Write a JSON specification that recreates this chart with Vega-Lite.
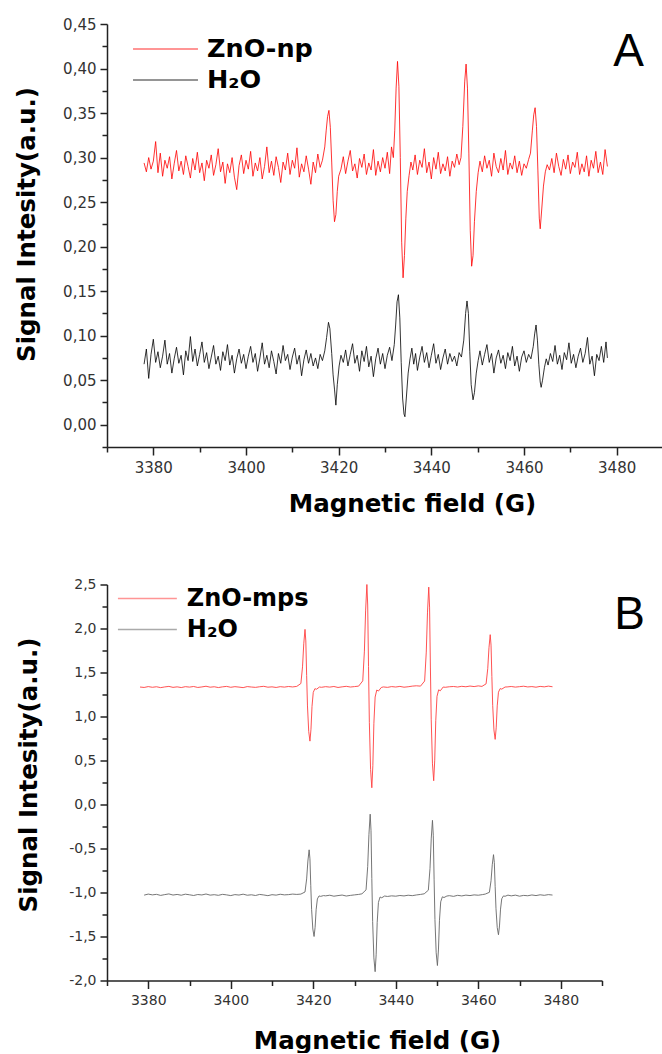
{
  "$schema": "https://vega.github.io/schema/vega-lite/v6.json",
  "padding": {"left": 14, "top": 17, "right": 0, "bottom": 0},
  "spacing": 61.5,
  "config": {
    "view": {"stroke": null},
    "axis": {"grid": false, "domainColor": "#222", "domainWidth": 1.5, "tickColor": "#222", "tickWidth": 1.5, "labelFont": "DejaVu Sans", "labelFontSize": 15, "labelColor": "#333", "titleFont": "DejaVu Sans", "titleFontWeight": "bold", "titleFontSize": 24.5, "titleColor": "#000"},
    "legend": {"symbolType": "M-1.85,0H1.85", "symbolStrokeWidth": 1.3, "symbolOpacity": 0.55, "labelFont": "DejaVu Sans", "labelFontWeight": "bold", "labelFontSize": 24, "labelColor": "#000", "padding": 0},
    "title": {"font": "Liberation Sans", "fontSize": 46, "fontWeight": "normal", "color": "#000", "anchor": "end", "frame": "group", "baseline": "alphabetic", "offset": 0}
  },
  "resolve": {"scale": {"color": "independent"}},
  "datasets": {
    "A_ZnO": [
      {"gauss":3378.0,"signal":0.294},{"gauss":3378.5,"signal":0.284},{"gauss":3379.0,"signal":0.300},{"gauss":3379.5,"signal":0.287},{"gauss":3380.0,"signal":0.296},{"gauss":3380.5,"signal":0.318},{"gauss":3381.0,"signal":0.283},{"gauss":3381.5,"signal":0.305},{"gauss":3382.0,"signal":0.279},{"gauss":3382.5,"signal":0.297},{"gauss":3383.0,"signal":0.288},{"gauss":3383.5,"signal":0.301},{"gauss":3384.0,"signal":0.276},{"gauss":3384.5,"signal":0.293},{"gauss":3385.0,"signal":0.308},{"gauss":3385.5,"signal":0.285},{"gauss":3386.0,"signal":0.296},{"gauss":3386.5,"signal":0.281},{"gauss":3387.0,"signal":0.302},{"gauss":3387.5,"signal":0.290},{"gauss":3388.0,"signal":0.277},{"gauss":3388.5,"signal":0.299},{"gauss":3389.0,"signal":0.286},{"gauss":3389.5,"signal":0.306},{"gauss":3390.0,"signal":0.283},{"gauss":3390.5,"signal":0.294},{"gauss":3391.0,"signal":0.274},{"gauss":3391.5,"signal":0.297},{"gauss":3392.0,"signal":0.288},{"gauss":3392.5,"signal":0.303},{"gauss":3393.0,"signal":0.280},{"gauss":3393.5,"signal":0.292},{"gauss":3394.0,"signal":0.310},{"gauss":3394.5,"signal":0.284},{"gauss":3395.0,"signal":0.295},{"gauss":3395.5,"signal":0.271},{"gauss":3396.0,"signal":0.293},{"gauss":3396.5,"signal":0.283},{"gauss":3397.0,"signal":0.300},{"gauss":3397.5,"signal":0.278},{"gauss":3398.0,"signal":0.264},{"gauss":3398.5,"signal":0.291},{"gauss":3399.0,"signal":0.303},{"gauss":3399.5,"signal":0.282},{"gauss":3400.0,"signal":0.297},{"gauss":3400.5,"signal":0.287},{"gauss":3401.0,"signal":0.307},{"gauss":3401.5,"signal":0.279},{"gauss":3402.0,"signal":0.294},{"gauss":3402.5,"signal":0.285},{"gauss":3403.0,"signal":0.300},{"gauss":3403.5,"signal":0.276},{"gauss":3404.0,"signal":0.290},{"gauss":3404.5,"signal":0.312},{"gauss":3405.0,"signal":0.283},{"gauss":3405.5,"signal":0.296},{"gauss":3406.0,"signal":0.280},{"gauss":3406.5,"signal":0.301},{"gauss":3407.0,"signal":0.289},{"gauss":3407.5,"signal":0.272},{"gauss":3408.0,"signal":0.295},{"gauss":3408.5,"signal":0.286},{"gauss":3409.0,"signal":0.305},{"gauss":3409.5,"signal":0.281},{"gauss":3410.0,"signal":0.297},{"gauss":3410.5,"signal":0.288},{"gauss":3411.0,"signal":0.311},{"gauss":3411.5,"signal":0.278},{"gauss":3412.0,"signal":0.293},{"gauss":3412.5,"signal":0.284},{"gauss":3413.0,"signal":0.302},{"gauss":3413.5,"signal":0.287},{"gauss":3414.0,"signal":0.270},{"gauss":3414.5,"signal":0.295},{"gauss":3415.0,"signal":0.283},{"gauss":3415.5,"signal":0.304},{"gauss":3416.0,"signal":0.289},
      {"gauss":3416.5,"signal":0.297},{"gauss":3417.0,"signal":0.312},{"gauss":3417.3,"signal":0.330},{"gauss":3417.6,"signal":0.346},{"gauss":3417.9,"signal":0.353},{"gauss":3418.2,"signal":0.334},{"gauss":3418.5,"signal":0.295},{"gauss":3418.8,"signal":0.252},{"gauss":3419.1,"signal":0.228},{"gauss":3419.4,"signal":0.236},{"gauss":3419.7,"signal":0.262},{"gauss":3420.0,"signal":0.279},{"gauss":3420.5,"signal":0.287},
      {"gauss":3421.0,"signal":0.301},{"gauss":3421.5,"signal":0.282},{"gauss":3422.0,"signal":0.296},{"gauss":3422.5,"signal":0.308},{"gauss":3423.0,"signal":0.285},{"gauss":3423.5,"signal":0.293},{"gauss":3424.0,"signal":0.277},{"gauss":3424.5,"signal":0.299},{"gauss":3425.0,"signal":0.289},{"gauss":3425.5,"signal":0.304},{"gauss":3426.0,"signal":0.281},{"gauss":3426.5,"signal":0.294},{"gauss":3427.0,"signal":0.286},{"gauss":3427.5,"signal":0.309},{"gauss":3428.0,"signal":0.280},{"gauss":3428.5,"signal":0.296},{"gauss":3429.0,"signal":0.284},{"gauss":3429.5,"signal":0.300},{"gauss":3430.0,"signal":0.288},{"gauss":3430.5,"signal":0.306},{"gauss":3431.0,"signal":0.282},
      {"gauss":3431.4,"signal":0.312},{"gauss":3431.8,"signal":0.300},{"gauss":3432.1,"signal":0.330},{"gauss":3432.4,"signal":0.378},{"gauss":3432.7,"signal":0.408},{"gauss":3433.0,"signal":0.380},{"gauss":3433.3,"signal":0.300},{"gauss":3433.6,"signal":0.205},{"gauss":3433.9,"signal":0.165},{"gauss":3434.2,"signal":0.190},{"gauss":3434.5,"signal":0.232},{"gauss":3434.8,"signal":0.262},{"gauss":3435.2,"signal":0.280},{"gauss":3435.6,"signal":0.295},
      {"gauss":3436.0,"signal":0.286},{"gauss":3436.5,"signal":0.303},{"gauss":3437.0,"signal":0.281},{"gauss":3437.5,"signal":0.297},{"gauss":3438.0,"signal":0.289},{"gauss":3438.5,"signal":0.310},{"gauss":3439.0,"signal":0.283},{"gauss":3439.5,"signal":0.295},{"gauss":3440.0,"signal":0.276},{"gauss":3440.5,"signal":0.300},{"gauss":3441.0,"signal":0.287},{"gauss":3441.5,"signal":0.306},{"gauss":3442.0,"signal":0.282},{"gauss":3442.5,"signal":0.293},{"gauss":3443.0,"signal":0.285},{"gauss":3443.5,"signal":0.301},{"gauss":3444.0,"signal":0.279},{"gauss":3444.5,"signal":0.296},{"gauss":3445.0,"signal":0.289},{"gauss":3445.5,"signal":0.304},{"gauss":3446.0,"signal":0.292},
      {"gauss":3446.4,"signal":0.300},{"gauss":3446.8,"signal":0.335},{"gauss":3447.2,"signal":0.385},{"gauss":3447.5,"signal":0.405},{"gauss":3447.8,"signal":0.378},{"gauss":3448.1,"signal":0.305},{"gauss":3448.4,"signal":0.218},{"gauss":3448.7,"signal":0.178},{"gauss":3449.0,"signal":0.190},{"gauss":3449.3,"signal":0.228},{"gauss":3449.7,"signal":0.262},{"gauss":3450.1,"signal":0.283},{"gauss":3450.5,"signal":0.296},
      {"gauss":3451.0,"signal":0.284},{"gauss":3451.5,"signal":0.302},{"gauss":3452.0,"signal":0.288},{"gauss":3452.5,"signal":0.297},{"gauss":3453.0,"signal":0.279},{"gauss":3453.5,"signal":0.305},{"gauss":3454.0,"signal":0.290},{"gauss":3454.5,"signal":0.283},{"gauss":3455.0,"signal":0.299},{"gauss":3455.5,"signal":0.286},{"gauss":3456.0,"signal":0.308},{"gauss":3456.5,"signal":0.281},{"gauss":3457.0,"signal":0.294},{"gauss":3457.5,"signal":0.287},{"gauss":3458.0,"signal":0.302},{"gauss":3458.5,"signal":0.283},{"gauss":3459.0,"signal":0.296},{"gauss":3459.5,"signal":0.280},{"gauss":3460.0,"signal":0.293},{"gauss":3460.5,"signal":0.288},{"gauss":3461.0,"signal":0.298},
      {"gauss":3461.4,"signal":0.305},{"gauss":3461.8,"signal":0.330},{"gauss":3462.1,"signal":0.348},{"gauss":3462.4,"signal":0.356},{"gauss":3462.7,"signal":0.335},{"gauss":3463.0,"signal":0.285},{"gauss":3463.3,"signal":0.232},{"gauss":3463.5,"signal":0.220},{"gauss":3463.8,"signal":0.240},{"gauss":3464.2,"signal":0.268},{"gauss":3464.6,"signal":0.284},{"gauss":3465.0,"signal":0.292},{"gauss":3465.5,"signal":0.286},
      {"gauss":3466.0,"signal":0.299},{"gauss":3466.5,"signal":0.283},{"gauss":3467.0,"signal":0.305},{"gauss":3467.5,"signal":0.290},{"gauss":3468.0,"signal":0.280},{"gauss":3468.5,"signal":0.298},{"gauss":3469.0,"signal":0.287},{"gauss":3469.5,"signal":0.303},{"gauss":3470.0,"signal":0.282},{"gauss":3470.5,"signal":0.295},{"gauss":3471.0,"signal":0.289},{"gauss":3471.5,"signal":0.306},{"gauss":3472.0,"signal":0.281},{"gauss":3472.5,"signal":0.293},{"gauss":3473.0,"signal":0.284},{"gauss":3473.5,"signal":0.302},{"gauss":3474.0,"signal":0.279},{"gauss":3474.5,"signal":0.297},{"gauss":3475.0,"signal":0.288},{"gauss":3475.5,"signal":0.307},{"gauss":3476.0,"signal":0.283},{"gauss":3476.5,"signal":0.295},{"gauss":3477.0,"signal":0.281},{"gauss":3477.5,"signal":0.309},{"gauss":3478.0,"signal":0.290}
    ],
    "A_H2O": [
      {"gauss":3378.0,"signal":0.068},{"gauss":3378.5,"signal":0.085},{"gauss":3379.0,"signal":0.052},{"gauss":3379.5,"signal":0.079},{"gauss":3380.0,"signal":0.096},{"gauss":3380.5,"signal":0.070},{"gauss":3381.0,"signal":0.082},{"gauss":3381.5,"signal":0.064},{"gauss":3382.0,"signal":0.077},{"gauss":3382.5,"signal":0.095},{"gauss":3383.0,"signal":0.068},{"gauss":3383.5,"signal":0.080},{"gauss":3384.0,"signal":0.058},{"gauss":3384.5,"signal":0.074},{"gauss":3385.0,"signal":0.087},{"gauss":3385.5,"signal":0.069},{"gauss":3386.0,"signal":0.078},{"gauss":3386.5,"signal":0.056},{"gauss":3387.0,"signal":0.083},{"gauss":3387.5,"signal":0.072},{"gauss":3388.0,"signal":0.099},{"gauss":3388.5,"signal":0.071},{"gauss":3389.0,"signal":0.085},{"gauss":3389.5,"signal":0.066},{"gauss":3390.0,"signal":0.079},{"gauss":3390.5,"signal":0.093},{"gauss":3391.0,"signal":0.070},{"gauss":3391.5,"signal":0.081},{"gauss":3392.0,"signal":0.063},{"gauss":3392.5,"signal":0.076},{"gauss":3393.0,"signal":0.089},{"gauss":3393.5,"signal":0.068},{"gauss":3394.0,"signal":0.077},{"gauss":3394.5,"signal":0.061},{"gauss":3395.0,"signal":0.082},{"gauss":3395.5,"signal":0.072},{"gauss":3396.0,"signal":0.090},{"gauss":3396.5,"signal":0.067},{"gauss":3397.0,"signal":0.078},{"gauss":3397.5,"signal":0.058},{"gauss":3398.0,"signal":0.074},{"gauss":3398.5,"signal":0.085},{"gauss":3399.0,"signal":0.069},{"gauss":3399.5,"signal":0.079},{"gauss":3400.0,"signal":0.063},{"gauss":3400.5,"signal":0.077},{"gauss":3401.0,"signal":0.088},{"gauss":3401.5,"signal":0.070},{"gauss":3402.0,"signal":0.080},{"gauss":3402.5,"signal":0.060},{"gauss":3403.0,"signal":0.075},{"gauss":3403.5,"signal":0.092},{"gauss":3404.0,"signal":0.068},{"gauss":3404.5,"signal":0.078},{"gauss":3405.0,"signal":0.064},{"gauss":3405.5,"signal":0.083},{"gauss":3406.0,"signal":0.071},{"gauss":3406.5,"signal":0.057},{"gauss":3407.0,"signal":0.080},{"gauss":3407.5,"signal":0.069},{"gauss":3408.0,"signal":0.089},{"gauss":3408.5,"signal":0.072},{"gauss":3409.0,"signal":0.079},{"gauss":3409.5,"signal":0.062},{"gauss":3410.0,"signal":0.076},{"gauss":3410.5,"signal":0.086},{"gauss":3411.0,"signal":0.068},{"gauss":3411.5,"signal":0.078},{"gauss":3412.0,"signal":0.055},{"gauss":3412.5,"signal":0.073},{"gauss":3413.0,"signal":0.084},{"gauss":3413.5,"signal":0.069},{"gauss":3414.0,"signal":0.080},{"gauss":3414.5,"signal":0.066},{"gauss":3415.0,"signal":0.075},{"gauss":3415.5,"signal":0.063},{"gauss":3416.0,"signal":0.079},{"gauss":3416.5,"signal":0.072},
      {"gauss":3417.0,"signal":0.083},{"gauss":3417.4,"signal":0.098},{"gauss":3417.8,"signal":0.115},{"gauss":3418.1,"signal":0.108},{"gauss":3418.5,"signal":0.080},{"gauss":3418.8,"signal":0.056},{"gauss":3419.1,"signal":0.040},{"gauss":3419.4,"signal":0.022},{"gauss":3419.7,"signal":0.045},{"gauss":3420.1,"signal":0.066},{"gauss":3420.5,"signal":0.078},
      {"gauss":3421.0,"signal":0.070},{"gauss":3421.5,"signal":0.084},{"gauss":3422.0,"signal":0.066},{"gauss":3422.5,"signal":0.079},{"gauss":3423.0,"signal":0.091},{"gauss":3423.5,"signal":0.069},{"gauss":3424.0,"signal":0.078},{"gauss":3424.5,"signal":0.060},{"gauss":3425.0,"signal":0.083},{"gauss":3425.5,"signal":0.071},{"gauss":3426.0,"signal":0.088},{"gauss":3426.5,"signal":0.065},{"gauss":3427.0,"signal":0.077},{"gauss":3427.5,"signal":0.054},{"gauss":3428.0,"signal":0.074},{"gauss":3428.5,"signal":0.086},{"gauss":3429.0,"signal":0.068},{"gauss":3429.5,"signal":0.080},{"gauss":3430.0,"signal":0.063},{"gauss":3430.5,"signal":0.078},{"gauss":3431.0,"signal":0.087},{"gauss":3431.5,"signal":0.072},
      {"gauss":3432.0,"signal":0.090},{"gauss":3432.3,"signal":0.112},{"gauss":3432.6,"signal":0.138},{"gauss":3432.9,"signal":0.146},{"gauss":3433.2,"signal":0.120},{"gauss":3433.5,"signal":0.070},{"gauss":3433.8,"signal":0.030},{"gauss":3434.1,"signal":0.012},{"gauss":3434.3,"signal":0.009},{"gauss":3434.6,"signal":0.030},{"gauss":3435.0,"signal":0.058},{"gauss":3435.4,"signal":0.074},
      {"gauss":3435.8,"signal":0.086},{"gauss":3436.2,"signal":0.068},{"gauss":3436.6,"signal":0.080},{"gauss":3437.0,"signal":0.061},{"gauss":3437.5,"signal":0.076},{"gauss":3438.0,"signal":0.088},{"gauss":3438.5,"signal":0.070},{"gauss":3439.0,"signal":0.081},{"gauss":3439.5,"signal":0.064},{"gauss":3440.0,"signal":0.078},{"gauss":3440.5,"signal":0.091},{"gauss":3441.0,"signal":0.069},{"gauss":3441.5,"signal":0.079},{"gauss":3442.0,"signal":0.062},{"gauss":3442.5,"signal":0.075},{"gauss":3443.0,"signal":0.085},{"gauss":3443.5,"signal":0.068},{"gauss":3444.0,"signal":0.080},{"gauss":3444.5,"signal":0.071},{"gauss":3445.0,"signal":0.077},{"gauss":3445.5,"signal":0.066},{"gauss":3446.0,"signal":0.081},{"gauss":3446.5,"signal":0.076},
      {"gauss":3447.0,"signal":0.095},{"gauss":3447.4,"signal":0.125},{"gauss":3447.7,"signal":0.139},{"gauss":3448.0,"signal":0.125},{"gauss":3448.3,"signal":0.082},{"gauss":3448.6,"signal":0.045},{"gauss":3449.0,"signal":0.028},{"gauss":3449.3,"signal":0.036},{"gauss":3449.7,"signal":0.058},{"gauss":3450.1,"signal":0.072},
      {"gauss":3450.5,"signal":0.083},{"gauss":3451.0,"signal":0.067},{"gauss":3451.5,"signal":0.079},{"gauss":3452.0,"signal":0.090},{"gauss":3452.5,"signal":0.070},{"gauss":3453.0,"signal":0.080},{"gauss":3453.5,"signal":0.058},{"gauss":3454.0,"signal":0.075},{"gauss":3454.5,"signal":0.084},{"gauss":3455.0,"signal":0.069},{"gauss":3455.5,"signal":0.078},{"gauss":3456.0,"signal":0.063},{"gauss":3456.5,"signal":0.081},{"gauss":3457.0,"signal":0.072},{"gauss":3457.5,"signal":0.088},{"gauss":3458.0,"signal":0.066},{"gauss":3458.5,"signal":0.077},{"gauss":3459.0,"signal":0.060},{"gauss":3459.5,"signal":0.076},{"gauss":3460.0,"signal":0.083},{"gauss":3460.5,"signal":0.070},{"gauss":3461.0,"signal":0.079},{"gauss":3461.5,"signal":0.074},
      {"gauss":3462.0,"signal":0.088},{"gauss":3462.3,"signal":0.102},{"gauss":3462.6,"signal":0.112},{"gauss":3462.9,"signal":0.095},{"gauss":3463.2,"signal":0.068},{"gauss":3463.5,"signal":0.048},{"gauss":3463.7,"signal":0.042},{"gauss":3464.0,"signal":0.050},{"gauss":3464.4,"signal":0.064},{"gauss":3464.8,"signal":0.074},
      {"gauss":3465.2,"signal":0.067},{"gauss":3465.7,"signal":0.080},{"gauss":3466.2,"signal":0.071},{"gauss":3466.7,"signal":0.089},{"gauss":3467.2,"signal":0.068},{"gauss":3467.7,"signal":0.078},{"gauss":3468.2,"signal":0.062},{"gauss":3468.7,"signal":0.081},{"gauss":3469.2,"signal":0.073},{"gauss":3469.7,"signal":0.092},{"gauss":3470.2,"signal":0.069},{"gauss":3470.7,"signal":0.079},{"gauss":3471.2,"signal":0.064},{"gauss":3471.7,"signal":0.077},{"gauss":3472.2,"signal":0.086},{"gauss":3472.7,"signal":0.070},{"gauss":3473.2,"signal":0.080},{"gauss":3473.7,"signal":0.098},{"gauss":3474.2,"signal":0.068},{"gauss":3474.7,"signal":0.077},{"gauss":3475.2,"signal":0.055},{"gauss":3475.7,"signal":0.079},{"gauss":3476.2,"signal":0.072},{"gauss":3476.7,"signal":0.088},{"gauss":3477.2,"signal":0.070},{"gauss":3477.7,"signal":0.093},{"gauss":3478.0,"signal":0.075}
    ],
    "B_ZnO": [
      {"gauss":3378,"signal":1.335},{"gauss":3379,"signal":1.330},{"gauss":3380,"signal":1.340},{"gauss":3381,"signal":1.332},{"gauss":3382,"signal":1.338},{"gauss":3383,"signal":1.328},{"gauss":3384,"signal":1.336},{"gauss":3385,"signal":1.342},{"gauss":3386,"signal":1.331},{"gauss":3387,"signal":1.337},{"gauss":3388,"signal":1.329},{"gauss":3389,"signal":1.339},{"gauss":3390,"signal":1.334},{"gauss":3391,"signal":1.341},{"gauss":3392,"signal":1.330},{"gauss":3393,"signal":1.336},{"gauss":3394,"signal":1.344},{"gauss":3395,"signal":1.333},{"gauss":3396,"signal":1.338},{"gauss":3397,"signal":1.329},{"gauss":3398,"signal":1.337},{"gauss":3399,"signal":1.342},{"gauss":3400,"signal":1.332},{"gauss":3401,"signal":1.339},{"gauss":3402,"signal":1.334},{"gauss":3403,"signal":1.328},{"gauss":3404,"signal":1.340},{"gauss":3405,"signal":1.335},{"gauss":3406,"signal":1.331},{"gauss":3407,"signal":1.338},{"gauss":3408,"signal":1.343},{"gauss":3409,"signal":1.333},{"gauss":3410,"signal":1.337},{"gauss":3411,"signal":1.330},{"gauss":3412,"signal":1.339},{"gauss":3413,"signal":1.334},{"gauss":3414,"signal":1.341},{"gauss":3415,"signal":1.336},
      {"gauss":3416.0,"signal":1.342},{"gauss":3417.0,"signal":1.375},{"gauss":3417.4,"signal":1.564},{"gauss":3417.7,"signal":1.826},{"gauss":3418.0,"signal":1.990},{"gauss":3418.2,"signal":1.859},{"gauss":3418.4,"signal":1.466},{"gauss":3418.6,"signal":1.120},{"gauss":3418.9,"signal":0.831},{"gauss":3419.2,"signal":0.720},{"gauss":3419.45,"signal":0.855},{"gauss":3419.7,"signal":1.114},{"gauss":3420.0,"signal":1.274},{"gauss":3420.4,"signal":1.316},{"gauss":3420.8,"signal":1.310},{"gauss":3421.5,"signal":1.335},
      {"gauss":3422,"signal":1.332},{"gauss":3423,"signal":1.339},{"gauss":3424,"signal":1.334},{"gauss":3425,"signal":1.341},{"gauss":3426,"signal":1.330},{"gauss":3427,"signal":1.337},{"gauss":3428,"signal":1.343},{"gauss":3429,"signal":1.335},{"gauss":3430,"signal":1.340},
      {"gauss":3431.0,"signal":1.345},{"gauss":3432.0,"signal":1.405},{"gauss":3432.4,"signal":1.743},{"gauss":3432.7,"signal":2.209},{"gauss":3433.0,"signal":2.500},{"gauss":3433.2,"signal":2.267},{"gauss":3433.4,"signal":1.568},{"gauss":3433.6,"signal":0.934},{"gauss":3433.9,"signal":0.396},{"gauss":3434.2,"signal":0.190},{"gauss":3434.45,"signal":0.442},{"gauss":3434.7,"signal":0.923},{"gauss":3435.0,"signal":1.221},{"gauss":3435.4,"signal":1.301},{"gauss":3435.8,"signal":1.289},{"gauss":3436.5,"signal":1.330},
      {"gauss":3437,"signal":1.336},{"gauss":3438,"signal":1.331},{"gauss":3439,"signal":1.340},{"gauss":3440,"signal":1.335},{"gauss":3441,"signal":1.342},{"gauss":3442,"signal":1.333},{"gauss":3443,"signal":1.338},{"gauss":3444,"signal":1.345},{"gauss":3445,"signal":1.349},
      {"gauss":3446.0,"signal":1.345},{"gauss":3447.0,"signal":1.403},{"gauss":3447.4,"signal":1.732},{"gauss":3447.7,"signal":2.186},{"gauss":3448.0,"signal":2.470},{"gauss":3448.2,"signal":2.243},{"gauss":3448.4,"signal":1.562},{"gauss":3448.6,"signal":0.962},{"gauss":3448.9,"signal":0.462},{"gauss":3449.2,"signal":0.270},{"gauss":3449.45,"signal":0.504},{"gauss":3449.7,"signal":0.952},{"gauss":3450.0,"signal":1.229},{"gauss":3450.4,"signal":1.303},{"gauss":3450.8,"signal":1.292},{"gauss":3451.5,"signal":1.335},
      {"gauss":3452,"signal":1.332},{"gauss":3453,"signal":1.338},{"gauss":3454,"signal":1.341},{"gauss":3455,"signal":1.335},{"gauss":3456,"signal":1.343},{"gauss":3457,"signal":1.338},{"gauss":3458,"signal":1.346},{"gauss":3459,"signal":1.340},{"gauss":3460,"signal":1.348},
      {"gauss":3460.9,"signal":1.342},{"gauss":3461.9,"signal":1.371},{"gauss":3462.3,"signal":1.543},{"gauss":3462.6,"signal":1.781},{"gauss":3462.9,"signal":1.930},{"gauss":3463.1,"signal":1.811},{"gauss":3463.3,"signal":1.454},{"gauss":3463.5,"signal":1.127},{"gauss":3463.8,"signal":0.847},{"gauss":3464.1,"signal":0.740},{"gauss":3464.35,"signal":0.871},{"gauss":3464.6,"signal":1.121},{"gauss":3464.9,"signal":1.276},{"gauss":3465.3,"signal":1.317},{"gauss":3465.7,"signal":1.311},{"gauss":3466.5,"signal":1.335},
      {"gauss":3467,"signal":1.336},{"gauss":3468,"signal":1.341},{"gauss":3469,"signal":1.334},{"gauss":3470,"signal":1.339},{"gauss":3471,"signal":1.344},{"gauss":3472,"signal":1.336},{"gauss":3473,"signal":1.340},{"gauss":3474,"signal":1.333},{"gauss":3475,"signal":1.342},{"gauss":3476,"signal":1.337},{"gauss":3477,"signal":1.345},{"gauss":3478,"signal":1.338}
    ],
    "B_H2O": [
      {"gauss":3379,"signal":-1.030},{"gauss":3380,"signal":-1.018},{"gauss":3381,"signal":-1.027},{"gauss":3382,"signal":-1.021},{"gauss":3383,"signal":-1.033},{"gauss":3384,"signal":-1.024},{"gauss":3385,"signal":-1.016},{"gauss":3386,"signal":-1.029},{"gauss":3387,"signal":-1.022},{"gauss":3388,"signal":-1.031},{"gauss":3389,"signal":-1.019},{"gauss":3390,"signal":-1.026},{"gauss":3391,"signal":-1.034},{"gauss":3392,"signal":-1.023},{"gauss":3393,"signal":-1.028},{"gauss":3394,"signal":-1.017},{"gauss":3395,"signal":-1.030},{"gauss":3396,"signal":-1.025},{"gauss":3397,"signal":-1.032},{"gauss":3398,"signal":-1.021},{"gauss":3399,"signal":-1.027},{"gauss":3400,"signal":-1.035},{"gauss":3401,"signal":-1.024},{"gauss":3402,"signal":-1.029},{"gauss":3403,"signal":-1.019},{"gauss":3404,"signal":-1.031},{"gauss":3405,"signal":-1.026},{"gauss":3406,"signal":-1.034},{"gauss":3407,"signal":-1.022},{"gauss":3408,"signal":-1.028},{"gauss":3409,"signal":-1.036},{"gauss":3410,"signal":-1.025},{"gauss":3411,"signal":-1.030},{"gauss":3412,"signal":-1.020},{"gauss":3413,"signal":-1.027},{"gauss":3414,"signal":-1.024},{"gauss":3415,"signal":-1.018},{"gauss":3416,"signal":-1.022},
      {"gauss":3417.0,"signal":-1.018},{"gauss":3418.0,"signal":-0.994},{"gauss":3418.4,"signal":-0.846},{"gauss":3418.7,"signal":-0.643},{"gauss":3419.0,"signal":-0.515},{"gauss":3419.2,"signal":-0.617},{"gauss":3419.4,"signal":-0.923},{"gauss":3419.6,"signal":-1.191},{"gauss":3419.9,"signal":-1.415},{"gauss":3420.2,"signal":-1.500},{"gauss":3420.45,"signal":-1.396},{"gauss":3420.7,"signal":-1.196},{"gauss":3421.0,"signal":-1.073},{"gauss":3421.4,"signal":-1.039},{"gauss":3421.8,"signal":-1.044},{"gauss":3422.5,"signal":-1.035},
      {"gauss":3423,"signal":-1.038},{"gauss":3424,"signal":-1.031},{"gauss":3425,"signal":-1.042},{"gauss":3426,"signal":-1.035},{"gauss":3427,"signal":-1.029},{"gauss":3428,"signal":-1.040},{"gauss":3429,"signal":-1.033},{"gauss":3430,"signal":-1.027},{"gauss":3431,"signal":-1.022},
      {"gauss":3431.8,"signal":-1.015},{"gauss":3432.8,"signal":-0.970},{"gauss":3433.2,"signal":-0.705},{"gauss":3433.5,"signal":-0.339},{"gauss":3433.8,"signal":-0.110},{"gauss":3434.0,"signal":-0.293},{"gauss":3434.2,"signal":-0.842},{"gauss":3434.4,"signal":-1.331},{"gauss":3434.7,"signal":-1.743},{"gauss":3435.0,"signal":-1.900},{"gauss":3435.25,"signal":-1.708},{"gauss":3435.5,"signal":-1.340},{"gauss":3435.8,"signal":-1.113},{"gauss":3436.2,"signal":-1.051},{"gauss":3436.6,"signal":-1.060},{"gauss":3437.3,"signal":-1.040},
      {"gauss":3438,"signal":-1.045},{"gauss":3439,"signal":-1.038},{"gauss":3440,"signal":-1.042},{"gauss":3441,"signal":-1.034},{"gauss":3442,"signal":-1.039},{"gauss":3443,"signal":-1.031},{"gauss":3444,"signal":-1.036},{"gauss":3445,"signal":-1.028},{"gauss":3446,"signal":-1.022},
      {"gauss":3446.9,"signal":-1.015},{"gauss":3447.9,"signal":-0.974},{"gauss":3448.3,"signal":-0.729},{"gauss":3448.6,"signal":-0.391},{"gauss":3448.9,"signal":-0.180},{"gauss":3449.1,"signal":-0.349},{"gauss":3449.3,"signal":-0.856},{"gauss":3449.5,"signal":-1.307},{"gauss":3449.8,"signal":-1.685},{"gauss":3450.1,"signal":-1.830},{"gauss":3450.35,"signal":-1.653},{"gauss":3450.6,"signal":-1.315},{"gauss":3450.9,"signal":-1.106},{"gauss":3451.3,"signal":-1.049},{"gauss":3451.7,"signal":-1.057},{"gauss":3452.4,"signal":-1.040},
      {"gauss":3453,"signal":-1.036},{"gauss":3454,"signal":-1.044},{"gauss":3455,"signal":-1.032},{"gauss":3456,"signal":-1.039},{"gauss":3457,"signal":-1.030},{"gauss":3458,"signal":-1.035},{"gauss":3459,"signal":-1.027},{"gauss":3460,"signal":-1.031},{"gauss":3461,"signal":-1.024},
      {"gauss":3461.7,"signal":-1.018},{"gauss":3462.7,"signal":-0.998},{"gauss":3463.1,"signal":-0.866},{"gauss":3463.4,"signal":-0.684},{"gauss":3463.7,"signal":-0.570},{"gauss":3463.9,"signal":-0.661},{"gauss":3464.1,"signal":-0.934},{"gauss":3464.3,"signal":-1.184},{"gauss":3464.6,"signal":-1.398},{"gauss":3464.9,"signal":-1.480},{"gauss":3465.15,"signal":-1.380},{"gauss":3465.4,"signal":-1.189},{"gauss":3465.7,"signal":-1.071},{"gauss":3466.1,"signal":-1.039},{"gauss":3466.5,"signal":-1.043},{"gauss":3467.2,"signal":-1.030},
      {"gauss":3468,"signal":-1.038},{"gauss":3469,"signal":-1.030},{"gauss":3470,"signal":-1.042},{"gauss":3471,"signal":-1.033},{"gauss":3472,"signal":-1.037},{"gauss":3473,"signal":-1.028},{"gauss":3474,"signal":-1.035},{"gauss":3475,"signal":-1.026},{"gauss":3476,"signal":-1.032},{"gauss":3477,"signal":-1.024},{"gauss":3478,"signal":-1.029}
    ]
  },
  "vconcat": [
    {
      "width": 556,
      "height": 423,
      "title": {"text": "A", "dx": -19, "dy": 63},
      "encoding": {
        "x": {"field": "gauss", "type": "quantitative", "scale": {"domain": [3370, 3490], "nice": false, "zero": false},
          "axis": {"title": "Magnetic field (G)", "values": [3370,3380,3390,3400,3410,3420,3430,3440,3450,3460,3470,3480,3490], "format": "d",
            "labelExpr": "datum.value % 20 === 0 ? datum.label : ''", "tickSize": {"condition": {"test": "datum.value % 20 !== 0", "value": 5}, "value": 8},
            "labelPadding": 5, "titleX": 305, "titleY": 64, "titleAlign": "center", "titleBaseline": "alphabetic", "labelFlush": false, "labelOverlap": false}},
        "y": {"field": "signal", "type": "quantitative", "scale": {"domain": [-0.025, 0.45], "nice": false, "zero": false},
          "axis": {"title": "Signal Intesity(a.u.)", "values": [-0.025,0,0.025,0.05,0.075,0.1,0.125,0.15,0.175,0.2,0.225,0.25,0.275,0.3,0.325,0.35,0.375,0.4,0.425,0.45],
            "labelExpr": "abs(datum.value*20 - round(datum.value*20)) > 0.001 ? '' : replace(format(datum.value, '.2f'), '.', ',')",
            "tickSize": {"condition": {"test": "abs(datum.value*20 - round(datum.value*20)) > 0.001", "value": 5}, "value": 7},
            "labelPadding": 4, "titleX": -73, "titleY": 200, "titleAngle": -90, "titleAlign": "center", "titleBaseline": "alphabetic", "labelFlush": false, "labelOverlap": false}}
      },
      "layer": [
        {"data": {"name": "A_ZnO"}, "mark": {"type": "line", "strokeWidth": 0.8},
          "encoding": {"color": {"datum": "ZnO-np", "scale": {"domain": ["ZnO-np", "H₂O"], "range": ["#ff0000", "#000000"]},
            "legend": {"title": null, "orient": "none", "legendX": 43, "legendY": 9.5, "symbolSize": 841, "symbolType": "M-2.24,0H2.24", "rowPadding": 2, "labelFontSize": 25.5, "labelOffset": 26}}}},
        {"data": {"name": "A_H2O"}, "mark": {"type": "line", "strokeWidth": 0.8},
          "encoding": {"color": {"datum": "H₂O"}}}
      ]
    },
    {
      "width": 495,
      "height": 396,
      "title": {"text": "B", "dx": 43, "dy": 65},
      "encoding": {
        "x": {"field": "gauss", "type": "quantitative", "scale": {"domain": [3370, 3490], "nice": false, "zero": false},
          "axis": {"title": "Magnetic field (G)", "values": [3370,3380,3390,3400,3410,3420,3430,3440,3450,3460,3470,3480,3490], "format": "d",
            "labelExpr": "datum.value % 20 === 0 ? datum.label : ''", "tickSize": {"condition": {"test": "datum.value % 20 !== 0", "value": 5}, "value": 8},
            "labelPadding": 5, "labelFontSize": 14, "titleX": 270, "titleY": 68, "titleAlign": "center", "titleBaseline": "alphabetic", "labelFlush": false, "labelOverlap": false}},
        "y": {"field": "signal", "type": "quantitative", "scale": {"domain": [-2, 2.5], "nice": false, "zero": false},
          "axis": {"title": "Signal Intesity(a.u.)", "values": [-2,-1.75,-1.5,-1.25,-1,-0.75,-0.5,-0.25,0,0.25,0.5,0.75,1,1.25,1.5,1.75,2,2.25,2.5],
            "labelExpr": "abs(datum.value*2 - round(datum.value*2)) > 0.001 ? '' : replace(replace(format(datum.value, '.1f'), '.', ','), '−', '-')",
            "tickSize": {"condition": {"test": "abs(datum.value*2 - round(datum.value*2)) > 0.001", "value": 5}, "value": 7},
            "labelPadding": 4, "labelFontSize": 14, "titleX": -71, "titleY": 190, "titleAngle": -90, "titleAlign": "center", "titleBaseline": "alphabetic", "labelFlush": false, "labelOverlap": false}}
      },
      "layer": [
        {"data": {"name": "B_ZnO"}, "mark": {"type": "line", "strokeWidth": 0.9},
          "encoding": {"color": {"datum": "ZnO-mps", "scale": {"domain": ["ZnO-mps", "H₂O"], "range": ["#ff4040", "#666666"]},
            "legend": {"title": null, "orient": "none", "legendX": 23.4, "legendY": -3, "symbolSize": 1037, "symbolType": "M-1.83,0H1.83", "rowPadding": 2, "labelOffset": 22.4}}}},
        {"data": {"name": "B_H2O"}, "mark": {"type": "line", "strokeWidth": 0.9},
          "encoding": {"color": {"datum": "H₂O"}}}
      ]
    }
  ]
}
